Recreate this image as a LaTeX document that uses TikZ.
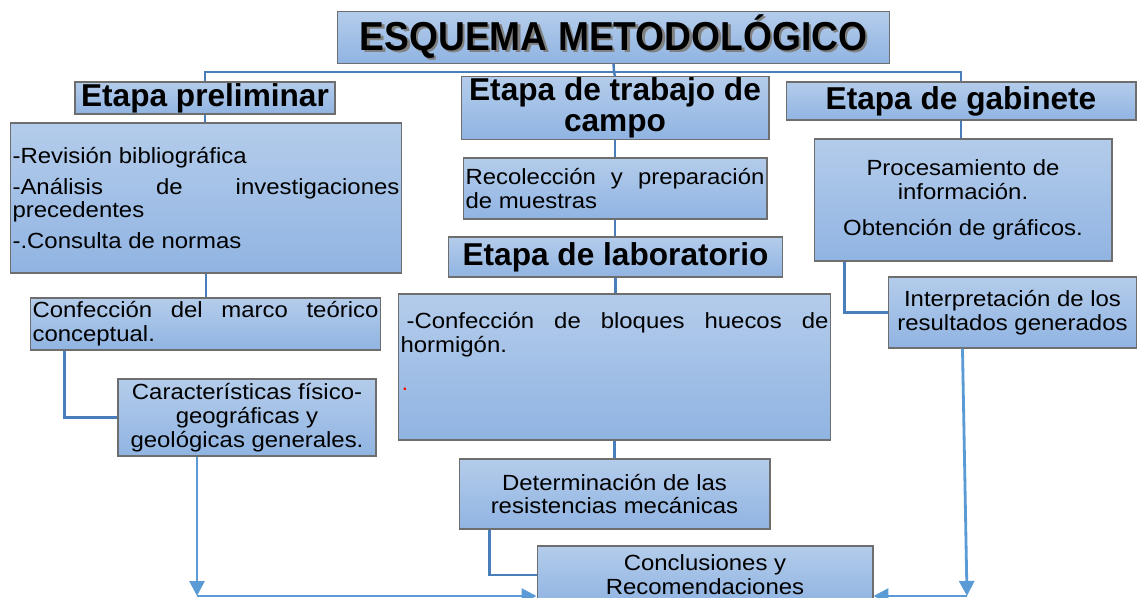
\documentclass[tikz,border=0pt]{standalone}
\usepackage{fontspec}
\setmainfont[FakeStretch=1.09]{Liberation Sans}
\newfontfamily\headfont{Liberation Sans}
\newfontfamily\titlefont[FakeStretch=0.92]{Liberation Sans}
\usetikzlibrary{arrows.meta}
\definecolor{boxtop}{RGB}{180,204,235}
\definecolor{boxbot}{RGB}{144,180,226}
\definecolor{boxline}{RGB}{110,110,110}
\definecolor{treeblue}{RGB}{74,126,187}
\definecolor{arrowblue}{RGB}{91,155,213}
\setlength{\parindent}{0pt}
\hyphenpenalty=10000
\exhyphenpenalty=10000

\begin{document}
\begin{tikzpicture}[x=0.02cm, y=-0.02cm,
    panel/.style={rectangle, draw=boxline, line width=0.6pt, top color=boxtop, bottom color=boxbot, inner sep=0.05cm},
    stage/.style={panel, inner sep=0.02cm, font=\headfont\fontsize{18}{17.5}\selectfont\bfseries, align=center},
    task/.style={panel, font=\fontsize{12.5}{13.5}\selectfont, align=center},
    note/.style={panel, font=\fontsize{12.5}{13.5}\selectfont, align=justify},
    link/.style={draw=treeblue, line width=1.4pt},
    flow/.style={draw=arrowblue, line width=1.6pt, -{Triangle[length=0.3cm,width=0.3cm]}}
]
\useasboundingbox (0,0) rectangle (1137,598);
\clip (0,0) rectangle (1137,598);

\node[panel, minimum width=11.06cm, minimum height=1.02cm] (title) at (613.5,37.5) {\titlefont\fontsize{23}{23}\selectfont\bfseries\makebox[0pt][l]{\hspace{1.4pt}\raisebox{-1.4pt}{\color{gray}ESQUEMA METODOLÓGICO}}ESQUEMA METODOLÓGICO};

% etapas
\node[stage, minimum width=5.2cm, minimum height=0.64cm] (prelim) at (205,98) {Etapa preliminar};
\node[stage, minimum width=6.16cm, minimum height=1.2cm] (campo) at (615,108) {Etapa de trabajo de\\campo};
\node[stage, minimum width=7.0cm, minimum height=0.76cm] (gabinete) at (961,101) {Etapa de gabinete};
\node[stage, minimum width=6.7cm, minimum height=0.8cm] (lab) at (615.5,257) {Etapa de laboratorio};

% columna izquierda
\node[note, text width=7.74cm, minimum height=3.0cm] (revision) at (206,198) {-Revisión bibliográfica\par\vspace{4pt}-Análisis de investigaciones precedentes\par\vspace{4pt}-.Consulta de normas};
\node[note, text width=6.92cm, minimum height=1.04cm] (marco) at (205.5,324) {Confección del marco teórico conceptual.};
\node[task, minimum width=5.16cm, minimum height=1.54cm] (caract) at (247,417.5) {Características físico-\\geográficas y\\geológicas generales.};

% columna central
\node[note, text width=5.98cm, minimum height=1.22cm] (recol) at (615,188.5) {Recolección y preparación de muestras};
\node[note, text width=8.56cm, minimum height=2.92cm] (bloques) at (614.5,367) {\hspace*{0.12cm}-Confección de bloques huecos de hormigón.\par\vspace{0.28cm}\hspace*{0.02cm}{\color{red}.}\par\strut};
\node[task, minimum width=6.22cm, minimum height=1.4cm] (determ) at (614.5,494) {Determinación de las\\resistencias mecánicas};
\node[task, minimum width=6.72cm, minimum height=1.16cm] (concl) at (705,575) {Conclusiones y\\Recomendaciones};

% columna derecha
\node[task, minimum width=5.96cm, minimum height=2.44cm] (proces) at (963,200) {Procesamiento de\\información.\\[7pt]Obtención de gráficos.};
\node[task, minimum width=4.98cm, minimum height=1.42cm] (interp) at (1012.5,312.5) {Interpretación de los\\resultados generados};

\coordinate (bus) at (614,72);
\coordinate (botL) at (197,596);
\coordinate (botR) at (967,596);

% uniones
\draw[link] (title.south) -- (bus);
\draw[link] (prelim.north) |- (bus) -| (gabinete.north);
\draw[link] (bus) -- (campo.north);
\draw[link] (prelim.south) -- (prelim.south |- revision.north);
\draw[link] (revision.south) -- (revision.south |- marco.north);
\draw[link] ([xshift=0.7cm]marco.south west) |- (caract.west);
\draw[link] (campo.south) -- (recol.north);
\draw[link] (recol.south) -- (recol.south |- lab.north);
\draw[link] (lab.south) -- (lab.south |- bloques.north);
\draw[link] (bloques.south) -- (bloques.south |- determ.north);
\draw[link] ([xshift=0.62cm]determ.south west) |- (concl.west);
\draw[link] (gabinete.south) -- (gabinete.south |- proces.north);
\draw[link] ([xshift=0.62cm]proces.south west) |- (interp.west);

% flechas
\draw[flow] (caract.south -| botL) -- (botL);
\draw[flow] (botL) -- (botL -| concl.west);
\draw[flow] ([xshift=1.5cm]interp.south west) -- (botR);
\draw[flow] (botR) -- (botR -| concl.east);

\end{tikzpicture}
\end{document}
